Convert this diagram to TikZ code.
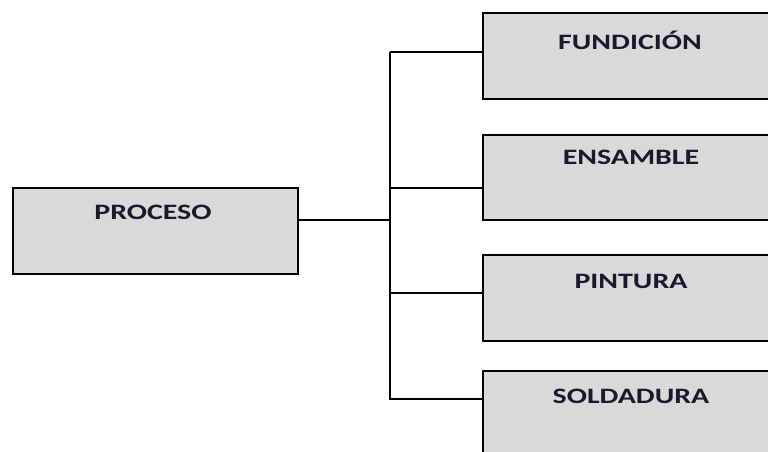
\documentclass[tikz,border=0pt]{standalone}
\usepackage{fontspec}
\setmainfont{Carlito}
\definecolor{boxfill}{HTML}{D9D9D9}
\definecolor{labelink}{HTML}{1A1A2E}
\begin{document}
\begin{tikzpicture}[x=1pt,y=-1pt,
  procbox/.style={draw=black, line width=2pt, fill=boxfill},
  boxlabel/.style={font=\bfseries\fontsize{22}{25}\selectfont, text=labelink, xscale=1.36, inner sep=0pt},
  link/.style={draw=black, line width=1.8pt}]
\useasboundingbox (0,0) rectangle (768,452);
\clip (0,0) rectangle (768,452);
% source box
\node[procbox, minimum width=285pt, minimum height=86pt, inner sep=0pt] (proc) at (155.5,231) {};
\node[boxlabel] (procl) at (153,212) {PROCESO};
% target boxes
\node[procbox, minimum width=296pt, minimum height=86pt, inner sep=0pt, anchor=north west] (fund) at (482,12) {};
\node[procbox, minimum width=296pt, minimum height=85pt, inner sep=0pt, anchor=north west] (ens) at (482,134) {};
\node[procbox, minimum width=296pt, minimum height=86pt, inner sep=0pt, anchor=north west] (pint) at (482,254) {};
\node[procbox, minimum width=296pt, minimum height=90pt, inner sep=0pt, anchor=north west] (sold) at (482,370) {};
\node[boxlabel] (fundl) at (630,40) {FUNDICIÓN};
\node[boxlabel] (ensl) at (631,157) {ENSAMBLE};
\node[boxlabel] (pintl) at (631,281) {PINTURA};
\node[boxlabel] (soldl) at (631,396) {SOLDADURA};
% tree connectors
\coordinate (bus) at (390,220);
\draw[link] (proc.east |- bus) -- (bus);
\draw[link] (390,52) |- (fund.west |- 0,52);
\draw[link] (390,52) -- (390,399) -- (sold.west |- 0,399);
\draw[link] (390,188) -- (ens.west |- 0,188);
\draw[link] (390,293) -- (pint.west |- 0,293);
\end{tikzpicture}
\end{document}
